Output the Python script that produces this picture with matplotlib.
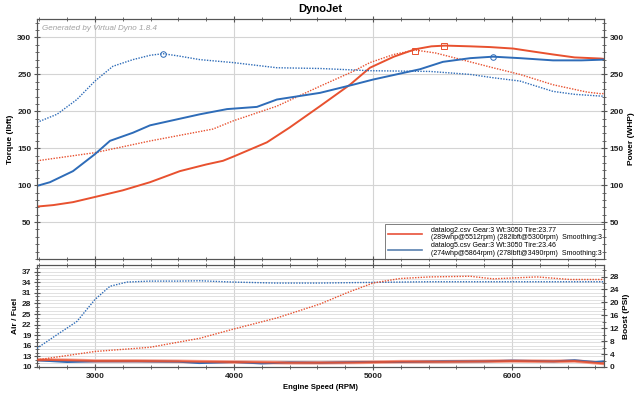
import matplotlib
matplotlib.use("Agg")
import matplotlib.pyplot as plt
from matplotlib.ticker import MultipleLocator, FixedLocator
from matplotlib.lines import Line2D

# ---- data ----
rpm_red_pwr = [2583, 2700, 2842, 3000, 3200, 3396, 3611, 3800, 3921, 4000, 4237, 4400, 4619, 4834, 4978, 5150, 5302, 5420, 5518, 5700, 5842, 6008, 6150, 6295, 6450, 6633, 6660]
red_pwr     = [71,   73,   77,   84,   93,   104,  119,  128,  133,  139,  158,  178,  207,  236,  259,  274,  284,  288,  289,  288,  287,  285,  281,  277,  273,  271.5, 271]

rpm_red_tq = [2583, 3000, 3400, 3849, 3993, 4309, 4619, 4856, 4978, 5150, 5302, 5450, 5575, 5863, 6057, 6295, 6540, 6633, 6660]
red_tq     = [133,  144,  160,  176,  187,  207,  234,  254,  266,  277,  283,  279,  273,  259,  250,  236,  226,  224,  224]

rpm_blue_tq = [2583, 2727, 2870, 3000, 3129, 3273, 3400, 3490, 3600, 3755, 3993, 4309, 4619, 4978, 5410, 5698, 5863, 6057, 6295, 6450, 6633, 6660]
blue_tq     = [185,  196,  216,  241,  261,  270,  276,  278,  275,  270,  266,  259,  258,  255,  254,  250,  245.5, 241, 227, 223, 220.7, 220.5]

rpm_blue_pwr = [2583, 2676, 2842, 3000, 3108, 3273, 3396, 3755, 3950, 4165, 4309, 4619, 4856, 5000, 5338, 5503, 5700, 5864, 6057, 6295, 6500, 6660]
blue_pwr     = [99,   104,  119,  142,  160,  171,  181,  196,  203,  206,  216,  225,  236,  243,  257,  267,  272,  274,  272,  269,  269,  270]

rpm_boost = [2583, 2727, 2870, 3000, 3108, 3230, 3396, 3600, 3755, 3993, 4300, 4619, 5000, 5400, 5800, 6200, 6660]
blue_boost = [5.8, 10.0, 14.1, 20.9, 25.0, 26.3, 26.6, 26.6, 26.7, 26.3, 26.0, 26.0, 26.2, 26.4, 26.4, 26.4, 26.4]

rpm_red_boost = [2583, 3000, 3396, 3755, 3993, 4309, 4619, 4813, 5000, 5194, 5410, 5698, 5863, 6180, 6417, 6660]
red_boost     = [2.2,  4.8,  6.1,  8.9,  11.7, 15.2, 19.5, 23.0, 26.0, 27.4, 27.9, 28.1, 27.3, 27.9, 27.1, 27.1]

rpm_afr = [2583, 2800, 3000, 3300, 3600, 3750, 4000, 4200, 4400, 4619, 4900, 5200, 5500, 5800, 6000, 6300, 6450, 6600, 6660]
red_afr  = [12.0, 11.9, 11.7, 11.7, 11.6, 11.5, 11.4, 11.3, 11.2, 11.2, 11.3, 11.5, 11.5, 11.6, 11.7, 11.6, 11.7, 11.2, 11.0]
blue_afr = [11.9, 11.4, 11.6, 11.6, 11.5, 11.1, 11.4, 11.0, 11.3, 11.2, 11.4, 11.4, 11.6, 11.6, 11.8, 11.6, 11.9, 11.4, 11.6]

peaks_red = [(5512, 289), (5300, 282)]
peaks_blue = [(3490, 278), (5864, 274)]

legend_labels = ["datalog2.csv Gear:3 Wt:3050 Tire:23.77\n(289whp@5512rpm) (282lbft@5300rpm)  Smoothing:3",
                 "datalog5.csv Gear:3 Wt:3050 Tire:23.46\n(274whp@5864rpm) (278lbft@3490rpm)  Smoothing:3"]

RED = "#e8512f"
BLUE = "#2e6cb8"
GRID = "#d4d4d4"
SPINE = "#555555"

plt.rcParams['font.family'] = ['Liberation Sans', 'DejaVu Sans']

fig = plt.figure(figsize=(6.4, 3.97), dpi=100)
fig.patch.set_facecolor("white")

ax1 = fig.add_axes([0.0578, 0.3476, 0.886, 0.6045])
ax2 = fig.add_axes([0.0578, 0.0756, 0.886, 0.257])

XMIN, XMAX = 2583, 6662

def style(ax):
    for s in ax.spines.values():
        s.set_color(SPINE)
        s.set_linewidth(0.8)
    ax.tick_params(which='both', direction='inout', colors=SPINE, labelsize=6, labelcolor="#222222", pad=2)
    ax.tick_params(which='major', length=4)
    ax.tick_params(which='minor', length=2.5)
    for lab in ax.get_xticklabels() + ax.get_yticklabels():
        lab.set_fontweight('bold')

# ---- top panel ----
ax1.set_xlim(XMIN, XMAX)
ax1.set_ylim(0, 325)
ax1.plot(rpm_red_pwr, red_pwr, color=RED, lw=1.4, zorder=3)
ax1.plot(rpm_red_tq, red_tq, color=RED, lw=1.0, ls=(0, (1, 1)), zorder=3)
ax1.plot(rpm_blue_pwr, blue_pwr, color=BLUE, lw=1.4, zorder=3)
ax1.plot(rpm_blue_tq, blue_tq, color=BLUE, lw=1.0, ls=(0, (1, 1)), zorder=3)
ax1.plot([p[0] for p in peaks_red], [p[1] for p in peaks_red], ls='none', marker='s', ms=4,
         mfc='none', mec=RED, mew=0.7, zorder=4)
ax1.plot([p[0] for p in peaks_blue], [p[1] for p in peaks_blue], ls='none', marker='o', ms=4,
         mfc='none', mec=BLUE, mew=0.7, zorder=4)

ax1.xaxis.set_major_locator(FixedLocator([3000, 4000, 5000, 6000]))
ax1.xaxis.set_minor_locator(MultipleLocator(200))
ax1.yaxis.set_major_locator(FixedLocator([50, 100, 150, 200, 250, 300]))
ax1.yaxis.set_minor_locator(MultipleLocator(10))
ax1.grid(True, which='major', color=GRID, lw=0.8)
ax1.tick_params(axis='x', which='both', top=True, labelbottom=False)
ax1.set_axisbelow(True)

ax1r = ax1.twinx()
ax1r.set_ylim(0, 325)
ax1r.yaxis.set_major_locator(FixedLocator([50, 100, 150, 200, 250, 300]))
ax1r.yaxis.set_minor_locator(MultipleLocator(10))

ax1.set_ylabel("Torque (lbft)", fontsize=6, fontweight='bold', labelpad=2)
ax1r.set_ylabel("Power (WHP)", fontsize=6, fontweight='bold', labelpad=3)
ax1.set_title("DynoJet", fontsize=8, fontweight='bold', pad=5)
ax1.text(0.008, 0.975, "Generated by Virtual Dyno 1.8.4", transform=ax1.transAxes,
         fontsize=5.8, style='italic', color="#a0a0a0", va='top', ha='left')

handles = [Line2D([], [], color="#e8513a", lw=1.2), Line2D([], [], color="#5a82b0", lw=1.2)]
leg = ax1.legend(handles, legend_labels, loc='lower right', bbox_to_anchor=(1.0, 0.0),
                 fontsize=5.0, frameon=True, fancybox=False, borderpad=0.35,
                 labelspacing=0.2, handlelength=5.0, handletextpad=1.2, borderaxespad=0)
leg.get_frame().set_edgecolor("#444444")
leg.get_frame().set_linewidth(0.6)
for t in leg.get_texts():
    t.set_linespacing(1.05)

# ---- bottom panel ----
ax2.set_xlim(XMIN, XMAX)
ax2.set_ylim(10, 38.9)
ax2.plot(rpm_afr, red_afr, color="#f4a090", lw=2.6, zorder=2)
ax2.plot(rpm_afr, blue_afr, color=BLUE, lw=1.4, zorder=3)
ax2.plot(rpm_afr, red_afr, color=RED, lw=1.4, alpha=0.9, zorder=3)
ax2.xaxis.set_major_locator(FixedLocator([3000, 4000, 5000, 6000]))
ax2.xaxis.set_minor_locator(MultipleLocator(200))
ax2.yaxis.set_major_locator(FixedLocator(list(range(10, 38, 3))))
ax2.yaxis.set_minor_locator(MultipleLocator(1))
ax2.grid(True, which='major', axis='x', color=GRID, lw=0.8)
ax2.grid(True, which='both', axis='y', color="#dcdcdc", lw=0.6)
ax2.tick_params(axis='x', which='both', top=True)
ax2.set_axisbelow(True)

ax2r = ax2.twinx()
ax2r.set_ylim(0, 31.6)
ax2r.plot(rpm_boost, blue_boost, color=BLUE, lw=1.0, ls=(0, (1, 1)), zorder=3)
ax2r.plot(rpm_red_boost, red_boost, color=RED, lw=1.0, ls=(0, (1, 1)), zorder=3)
ax2r.yaxis.set_major_locator(FixedLocator(list(range(0, 29, 4))))
ax2r.yaxis.set_minor_locator(MultipleLocator(2))

ax2.set_ylabel("Air / Fuel", fontsize=6, fontweight='bold', labelpad=2)
ax2r.set_ylabel("Boost (PSI)", fontsize=6, fontweight='bold', labelpad=3)
ax2.set_xlabel("Engine Speed (RPM)", fontsize=5.5, fontweight='bold', labelpad=3)

for ax in (ax1, ax1r, ax2, ax2r):
    style(ax)

fig.savefig("out.png", dpi=100, facecolor="white")
